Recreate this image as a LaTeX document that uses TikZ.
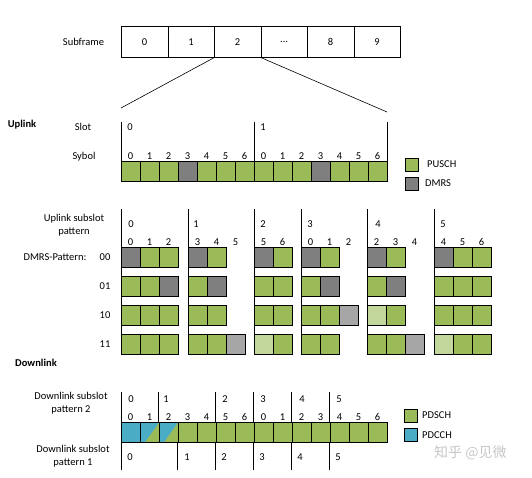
\documentclass[tikz,border=0pt]{standalone}
\usepackage{fontspec}
\setmainfont{Carlito}
\newfontfamily\cjk{Noto Sans CJK SC}
\usetikzlibrary{positioning}

\definecolor{pusch}{HTML}{9BBB59}
\definecolor{puschl}{HTML}{C3D69B}
\definecolor{dmrs}{HTML}{7F7F7F}
\definecolor{dmrsl}{HTML}{A6A6A6}
\definecolor{pdcch}{HTML}{4BACC6}

\tikzset{
  cell/.style={draw, line width=0.7pt, minimum width=19pt, minimum height=19.5pt,
    inner sep=0pt, anchor=north west},
  sfbox/.style={draw, line width=0.7pt, minimum width=46.5pt, minimum height=31pt,
    inner sep=0pt, anchor=north west, font=\fontsize{10.5}{12.5}\selectfont},
  legbox/.style={cell, minimum width=13pt, minimum height=13pt},
  lbl/.style={inner sep=0pt, font=\fontsize{10.5}{12.5}\selectfont},
  tick/.style={line width=0.6pt},
  splitcell/.style={cell, fill=pdcch, path picture={
    \fill[pusch] ([xshift=5pt]path picture bounding box.south west)
      -- (path picture bounding box.north east)
      -- (path picture bounding box.south east) -- cycle;}},
}

\begin{document}
\begin{tikzpicture}[x=1pt,y=-1pt]
  \useasboundingbox (0,0) rectangle (532,477);

  %% subframes
  \node[lbl] (subframe) at (83.5,42) {Subframe};
  \foreach \i/\t in {0/0,1/1,2/2,3/{...},4/8,5/9}
    \node[sfbox] (sf\i) at (121+46.5*\i,26) {\t};
  %% zoom lines
  \coordinate (zl) at (121,108);
  \coordinate (zr) at (387,112);
  \draw[tick] (sf2.south west) -- (zl);
  \draw[tick] (sf2.south east) -- (zr);

  %%% uplink
  \node[lbl] (uplink) at (22,125) {\bfseries Uplink};
  \node[lbl] (slot) at (83,127) {Slot};
  \node[lbl] (sybol) at (84,157) {Sybol};
  \foreach \x in {121,254,387}
    \draw[tick] (\x,122) -- (\x,161);
  \node[lbl] (slot0) at (130,127) {0};
  \node[lbl] (slot1) at (263,127) {1};
  \foreach \i/\c in {0/pusch,1/pusch,2/pusch,3/dmrs,4/pusch,5/pusch,6/pusch,
                     7/pusch,8/pusch,9/pusch,10/dmrs,11/pusch,12/pusch,13/pusch}
    \node[cell, fill=\c] (sym\i) at (121+19*\i,161) {};
  \foreach \i in {0,...,13} {
    \pgfmathtruncatemacro\n{mod(\i,7)}
    \node[lbl] (symn\i) at (130.5+19*\i,156) {\n};
  }
  %% legend
  \node[legbox, fill=pusch] (lgpusch) at (405,158) {};
  \node[legbox, fill=dmrs] (lgdmrs) at (405,177) {};
  \node[lbl, anchor=west] (lgpuschtxt) at (427,164) {PUSCH};
  \node[lbl, anchor=west] (lgdmrstxt) at (425,183) {DMRS};

  %%% uplink subslots
  \node[lbl, align=center] (ulsub) at (74,225) {Uplink subslot\\pattern};
  \node[lbl] (dmrspat) at (55,257) {DMRS-Pattern:};
  \foreach \y/\t in {257/00,286/01,315/10,344/11}
    \node[lbl] (pat\t) at (105,\y) {\t};
  \foreach \x in {121,188,254,301,367,434}
    \draw[tick] (\x,209) -- (\x,354);
  \foreach \x/\t in {131/0,196/1,263/2,310/3,378/4,443/5}
    \node[lbl] (ulss\t) at (\x,224) {\t};
  \foreach \x/\t [count=\k] in {130.5/0,149.5/1,168.5/2,197.5/3,216.5/4,235.5/5,
      263.5/5,282.5/6,310.5/0,329.5/1,348.5/2,376.5/2,395.5/3,414.5/4,
      443.5/4,462.5/5,481.5/6}
    \node[lbl] (ulsym\k) at (\x,242) {\t};
  %% pattern 00
  \foreach \x/\c in {121/dmrs,140/pusch,159/pusch,188/dmrs,207/pusch,254/dmrs,
      273/pusch,301/dmrs,320/pusch,367/dmrs,386/pusch,434/dmrs,453/pusch,472/pusch}
    \node[cell, fill=\c] (a\x) at (\x,247) {};
  %% pattern 01
  \foreach \x/\c in {121/pusch,140/pusch,159/dmrs,188/pusch,207/dmrs,254/pusch,
      273/pusch,301/pusch,320/dmrs,367/pusch,386/dmrs,434/pusch,453/pusch,472/pusch}
    \node[cell, fill=\c] (b\x) at (\x,276) {};
  %% pattern 10
  \foreach \x/\c in {121/pusch,140/pusch,159/pusch,188/pusch,207/pusch,254/pusch,
      273/pusch,301/pusch,320/pusch,339/dmrsl,367/puschl,386/pusch,434/pusch,
      453/pusch,472/pusch}
    \node[cell, fill=\c] (c\x) at (\x,305) {};
  %% pattern 11
  \foreach \x/\c in {121/pusch,140/pusch,159/pusch,188/pusch,207/pusch,226/dmrsl,
      254/puschl,273/pusch,301/pusch,320/pusch,367/pusch,386/pusch,405/dmrsl,
      434/puschl,453/pusch,472/pusch}
    \node[cell, fill=\c] (d\x) at (\x,334) {};

  %%% downlink
  \node[lbl] (downlink) at (36,363) {\bfseries Downlink};
  \node[lbl, align=center] (dlsub2) at (71,403) {Downlink subslot\\pattern 2};
  \node[lbl, align=center] (dlsub1) at (73,456) {Downlink subslot\\pattern 1};
  \foreach \x in {121,158,215,253,291,329}
    \draw[tick] (\x,392) -- (\x,422);
  \foreach \x in {121,177,215,253,291,329}
    \draw[tick] (\x,442) -- (\x,470);
  \foreach \x/\t in {131/0,166/1,225/2,263/3,302/4,339/5}
    \node[lbl] (dltop\t) at (\x,399) {\t};
  \foreach \x/\t in {130/0,187/1,224/2,262/3,300/4,338/5}
    \node[lbl] (dlbot\t) at (\x,457) {\t};
  \foreach \i in {0,...,13} {
    \pgfmathtruncatemacro\n{mod(\i,7)}
    \node[lbl] (dlsymn\i) at (130.5+19*\i,417) {\n};
  }
  \node[cell, fill=pdcch] (dl0) at (121,422) {};
  \node[splitcell] (dl1) at (140,422) {};
  \node[splitcell] (dl2) at (159,422) {};
  \foreach \i in {3,...,13}
    \node[cell, fill=pusch] (dl\i) at (121+19*\i,422) {};
  %% legend
  \node[legbox, fill=pusch] (lgpdsch) at (404,409) {};
  \node[legbox, fill=pdcch] (lgpdcch) at (404,428) {};
  \node[lbl, anchor=west] (lgpdschtxt) at (422,415) {PDSCH};
  \node[lbl, anchor=west] (lgpdcchtxt) at (422,435) {PDCCH};

  \node[inner sep=0pt, anchor=west, text=black!22, font=\cjk\fontsize{14}{16}\selectfont]
    (wmark) at (434,453) {知乎 @见微};
\end{tikzpicture}
\end{document}
